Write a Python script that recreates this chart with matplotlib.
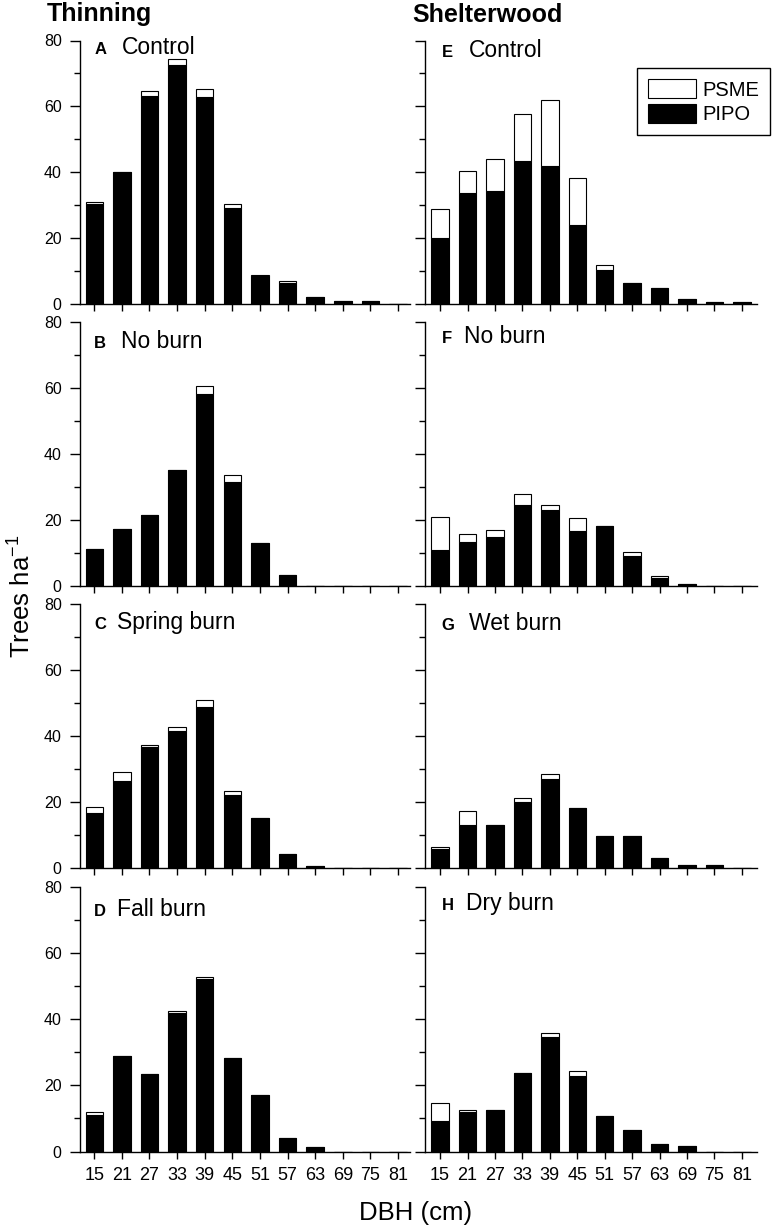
import matplotlib
matplotlib.use("Agg")
import matplotlib.pyplot as plt
from matplotlib.patches import Patch
from matplotlib.ticker import MultipleLocator

plt.rcParams['font.family'] = ['Liberation Sans', 'DejaVu Sans']
plt.rcParams['mathtext.fontset'] = 'custom'
plt.rcParams['mathtext.rm'] = 'Liberation Sans'
plt.rcParams['mathtext.it'] = 'Liberation Sans:italic'
plt.rcParams['mathtext.bf'] = 'Liberation Sans:bold'

# ---------------- data ----------------
dbh = [15, 21, 27, 33, 39, 45, 51, 57, 63, 69, 75, 81]

pipo_A = [30.3, 40.0, 63.3, 72.5, 62.8, 29.1, 8.4, 6.3, 2.1, 0.8, 0.8, 0]
psme_A = [0.7, 0, 1.4, 1.8, 2.6, 1.3, 0.5, 0.6, 0, 0, 0, 0]
pipo_B = [11.3, 17.3, 21.5, 35.2, 58.3, 31.7, 13.3, 3.6, 0, 0, 0, 0]
psme_B = [0, 0, 0, 0, 2.2, 2.1, 0, 0, 0, 0, 0, 0]
pipo_C = [16.6, 26.2, 36.7, 41.3, 48.8, 22.0, 15.2, 4.1, 0.7, 0, 0, 0]
psme_C = [2.0, 2.7, 0.5, 1.4, 2.1, 1.3, 0, 0, 0, 0, 0, 0]
pipo_D = [11.1, 28.8, 23.4, 42.0, 52.3, 28.2, 17.1, 4.2, 1.5, 0, 0, 0]
psme_D = [0.7, 0, 0, 0.6, 0.6, 0, 0, 0, 0, 0, 0, 0]
pipo_E = [20.0, 33.8, 34.4, 43.3, 42.0, 24.1, 10.4, 6.3, 4.9, 1.5, 0.7, 0.7]
psme_E = [8.9, 6.7, 9.5, 14.3, 19.9, 14.2, 1.3, 0, 0, 0, 0, 0]
pipo_F = [11.1, 13.5, 14.9, 24.8, 23.2, 16.8, 18.4, 9.2, 2.6, 0.9, 0, 0]
psme_F = [10.0, 2.4, 2.2, 3.2, 1.6, 3.9, 0, 1.2, 0.6, 0, 0, 0]
pipo_G = [5.7, 13.1, 13.1, 20.1, 26.8, 18.0, 9.8, 9.8, 2.9, 0.9, 0.9, 0]
psme_G = [0.7, 4.2, 0, 1.2, 1.5, 0, 0, 0, 0, 0, 0, 0]
pipo_H = [9.2, 12.0, 12.7, 23.6, 34.5, 22.9, 10.6, 6.4, 2.4, 1.7, 0, 0]
psme_H = [5.4, 0.7, 0, 0, 1.4, 1.4, 0, 0, 0, 0, 0, 0]

letters_left = ['A', 'B', 'C', 'D']
names_left = ['Control', 'No burn', 'Spring burn', 'Fall burn']
letters_right = ['E', 'F', 'G', 'H']
names_right = ['Control', 'No burn', 'Wet burn', 'Dry burn']
col_titles = ['Thinning', 'Shelterwood']
legend_labels = ['PSME', 'PIPO']
yticks = [0, 20, 40, 60, 80]

left_data = [(pipo_A, psme_A), (pipo_B, psme_B), (pipo_C, psme_C), (pipo_D, psme_D)]
right_data = [(pipo_E, psme_E), (pipo_F, psme_F), (pipo_G, psme_G), (pipo_H, psme_H)]

# ---------------- layout ----------------
W, H = 772, 1231
fig = plt.figure(figsize=(W / 100, H / 100), dpi=100)

rows_px = [(40.5, 304), (322, 586.5), (603.5, 868), (887, 1151.5)]
cols_px = [(80, 410, (11.9, 83.6)), (425, 757, (11.7, 84.3))]

letter_x = [15.0, 15.3]
name_x_left = [20.9, 20.9, 20.0, 20.0]
name_x_right = [21.4, 20.3, 21.4, 20.7]
lab_y_left = [0.947, 0.903, 0.904, 0.890]
lab_y_right = [0.937, 0.919, 0.899, 0.914]

for c, (x0, x1, xl) in enumerate(cols_px):
    data = left_data if c == 0 else right_data
    letters = letters_left if c == 0 else letters_right
    names = names_left if c == 0 else names_right
    name_x = name_x_left if c == 0 else name_x_right
    lab_y = lab_y_left if c == 0 else lab_y_right
    for r, (t, b) in enumerate(rows_px):
        ax = fig.add_axes([x0 / W, 1 - b / H, (x1 - x0) / W, (b - t) / H])
        pipo, psme = data[r]
        ax.bar(dbh, pipo, width=3.8, color='black', edgecolor='black', linewidth=0.8)
        ax.bar(dbh, psme, bottom=pipo, width=3.8, color='white', edgecolor='black', linewidth=0.8)
        ax.set_xlim(*xl)
        ax.set_ylim(0, 80)
        for s in ['top', 'right']:
            ax.spines[s].set_visible(False)
        for s in ['left', 'bottom']:
            ax.spines[s].set_linewidth(1.0)
        ax.set_xticks(dbh)
        ax.set_yticks(yticks)
        ax.yaxis.set_minor_locator(MultipleLocator(10))
        ax.tick_params(axis='y', which='major', direction='out', length=7.2, width=1.0,
                       labelsize=11.5, pad=6)
        ax.tick_params(axis='y', which='minor', direction='out', length=4.3, width=1.0)
        ax.tick_params(axis='x', which='major', direction='out', length=5, width=1.0,
                       labelsize=13, pad=6)
        if c == 1:
            ax.set_yticklabels([])
        if r < 3:
            ax.set_xticklabels([])
        tr = ax.get_xaxis_transform()
        ax.text(letter_x[c], lab_y[r], letters[r], transform=tr, fontsize=12,
                fontweight='bold', va='baseline', ha='left')
        ax.text(name_x[r], lab_y[r], names[r], transform=tr, fontsize=16.5,
                va='baseline', ha='left')

# column titles
fig.text(47 / W, 1 - 21 / H, col_titles[0], fontsize=18, fontweight='bold',
         ha='left', va='baseline')
fig.text(412 / W, 1 - 22 / H, col_titles[1], fontsize=18, fontweight='bold',
         ha='left', va='baseline')

# axis labels
fig.text(22 / W, 1 - 596 / H, 'Trees ha$^{-1}$', rotation=90, fontsize=18.5,
         ha='center', va='center')
fig.text(416 / W, 1 - 1213 / H, 'DBH (cm)', fontsize=18.5, ha='center', va='center')

# legend
handles = [Patch(facecolor='white', edgecolor='black', linewidth=0.8),
           Patch(facecolor='black', edgecolor='black', linewidth=0.8)]
leg = fig.legend(handles, legend_labels, loc='upper left',
                 bbox_to_anchor=(637 / W, 1 - 68 / H), borderaxespad=0,
                 fontsize=14.5, handlelength=2.4, handleheight=1.1,
                 labelspacing=0.2, borderpad=0.55, handletextpad=0.3,
                 fancybox=False, edgecolor='black', framealpha=1)
leg.get_frame().set_linewidth(1.0)

fig.savefig('out.png', dpi=100)
